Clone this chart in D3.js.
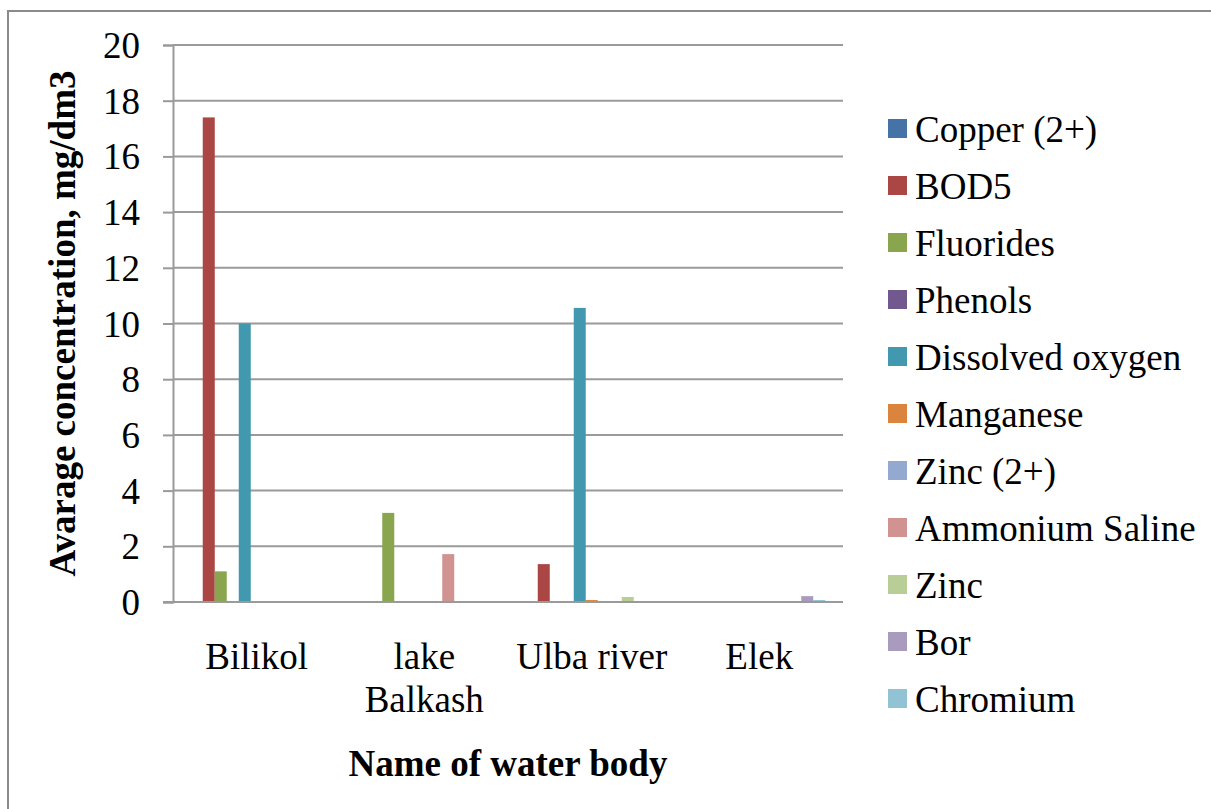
<!DOCTYPE html>
<html>
<head>
<meta charset="utf-8">
<script src="https://cdn.jsdelivr.net/npm/d3@7"></script>
<style>
  body { margin: 0; background: #fff; }
  svg text { font-family: "Liberation Serif", "Times New Roman", serif; fill: #000; }
</style>
</head>
<body>
<svg id="chart" width="1211" height="809"></svg>
<script>
// data
var categories = ["Bilikol", "lake Balkash", "Ulba river", "Elek"];
var seriesNames = ["Copper (2+)", "BOD5", "Fluorides", "Phenols", "Dissolved oxygen",
  "Manganese", "Zinc (2+)", "Ammonium Saline", "Zinc", "Bor", "Chromium"];
var seriesValues = [
  [0, 0, 0, 0],          // Copper (2+)
  [17.4, 0, 1.36, 0],    // BOD5
  [1.1, 3.2, 0, 0],      // Fluorides
  [0, 0, 0, 0],          // Phenols
  [10.0, 0, 10.56, 0],   // Dissolved oxygen
  [0, 0, 0.07, 0],       // Manganese
  [0, 0, 0, 0],          // Zinc (2+)
  [0, 1.72, 0, 0],       // Ammonium Saline
  [0, 0, 0.18, 0],       // Zinc
  [0, 0, 0, 0.21],       // Bor
  [0, 0, 0, 0.07]        // Chromium
];
var seriesColors = ["#4572A7", "#AA4643", "#89A54E", "#71588F", "#4198AF",
  "#DB843D", "#93A9CF", "#D19392", "#B9CD96", "#A99BBD", "#91C3D5"];
var yTicks = [0, 2, 4, 6, 8, 10, 12, 14, 16, 18, 20];

var svg = d3.select("#chart");
var fs = 37;
var plotLeft = 173, plotRight = 843, plotTop = 45, plotBottom = 602;

// outer frame
svg.append("rect")
  .attr("x", 8).attr("y", 11)
  .attr("width", 1240).attr("height", 840)
  .attr("fill", "none").attr("stroke", "#8a8a8a").attr("stroke-width", 2);

var y = d3.scaleLinear().domain([0, 20]).range([plotBottom, plotTop]);
var x0 = d3.scaleBand().domain(categories).range([plotLeft, plotRight]);
var x1 = d3.scaleBand().domain(seriesNames)
  .range([17.75, x0.bandwidth() - 17.75]);

// gridlines
svg.append("g").selectAll("line").data(yTicks.slice(1)).enter()
  .append("line")
  .attr("x1", plotLeft).attr("x2", plotRight)
  .attr("y1", function (d) { return y(d); })
  .attr("y2", function (d) { return y(d); })
  .attr("stroke", "#9a9a9a").attr("stroke-width", 2);

// bars
var rows = [];
seriesNames.forEach(function (s, i) {
  categories.forEach(function (c, j) {
    rows.push({ s: s, c: c, v: seriesValues[i][j], color: seriesColors[i] });
  });
});
svg.append("g").selectAll("rect").data(rows.filter(function (d) { return d.v > 0; }))
  .enter().append("rect")
  .attr("x", function (d) { return x0(d.c) + x1(d.s); })
  .attr("y", function (d) { return y(d.v); })
  .attr("width", x1.bandwidth())
  .attr("height", function (d) { return y(0) - y(d.v); })
  .attr("fill", function (d) { return d.color; });

// y axis
var yAxis = d3.axisLeft(y).tickValues(yTicks).tickSize(10).tickPadding(23);
var gy = svg.append("g").attr("transform", "translate(" + plotLeft + ",0)").call(yAxis);
gy.select(".domain").attr("stroke", "#9a9a9a").attr("stroke-width", 2);
gy.selectAll(".tick line").attr("stroke", "#9a9a9a").attr("stroke-width", 2);
gy.selectAll(".tick text")
  .attr("font-family", "Liberation Serif").attr("font-size", fs)
  .attr("dy", "0.34em").attr("fill", "#000");

// x axis line
svg.append("line")
  .attr("x1", plotLeft - 10).attr("x2", plotRight)
  .attr("y1", plotBottom).attr("y2", plotBottom)
  .attr("stroke", "#9a9a9a").attr("stroke-width", 2);

// category labels, wrapped to the band width
categories.forEach(function (c) {
  var cx = x0(c) + x0.bandwidth() / 2;
  var t = svg.append("text")
    .attr("x", cx).attr("y", 669)
    .attr("text-anchor", "middle").attr("font-size", fs);
  var words = c.split(" "), line = [], lines = [];
  words.forEach(function (w) {
    line.push(w);
    t.text(line.join(" "));
    if (t.node().getComputedTextLength() > x0.bandwidth() && line.length > 1) {
      line.pop();
      lines.push(line.join(" "));
      line = [w];
    }
  });
  lines.push(line.join(" "));
  t.text(null);
  lines.forEach(function (l, k) {
    t.append("tspan").attr("x", cx)
      .attr("dy", k === 0 ? 0 : 42.7).text(l);
  });
});

// axis titles
svg.append("text")
  .attr("x", (plotLeft + plotRight) / 2).attr("y", 776)
  .attr("text-anchor", "middle").attr("font-size", fs).attr("font-weight", "bold")
  .text("Name of water body");
svg.append("text")
  .attr("transform", "translate(75," + (plotTop + plotBottom) / 2 + ") rotate(-90)")
  .attr("text-anchor", "middle").attr("font-size", fs).attr("font-weight", "bold")
  .text("Avarage concentration, mg/dm3");

// legend
var legend = svg.append("g").selectAll("g").data(seriesNames).enter()
  .append("g")
  .attr("transform", function (d, i) { return "translate(888," + (128.5 + i * 57) + ")"; });
legend.append("rect")
  .attr("x", 0).attr("y", -9.5).attr("width", 19).attr("height", 19)
  .attr("fill", function (d, i) { return seriesColors[i]; });
legend.append("text")
  .attr("x", 27).attr("y", 13.5).attr("font-size", fs)
  .text(function (d) { return d; });
</script>
</body>
</html>
